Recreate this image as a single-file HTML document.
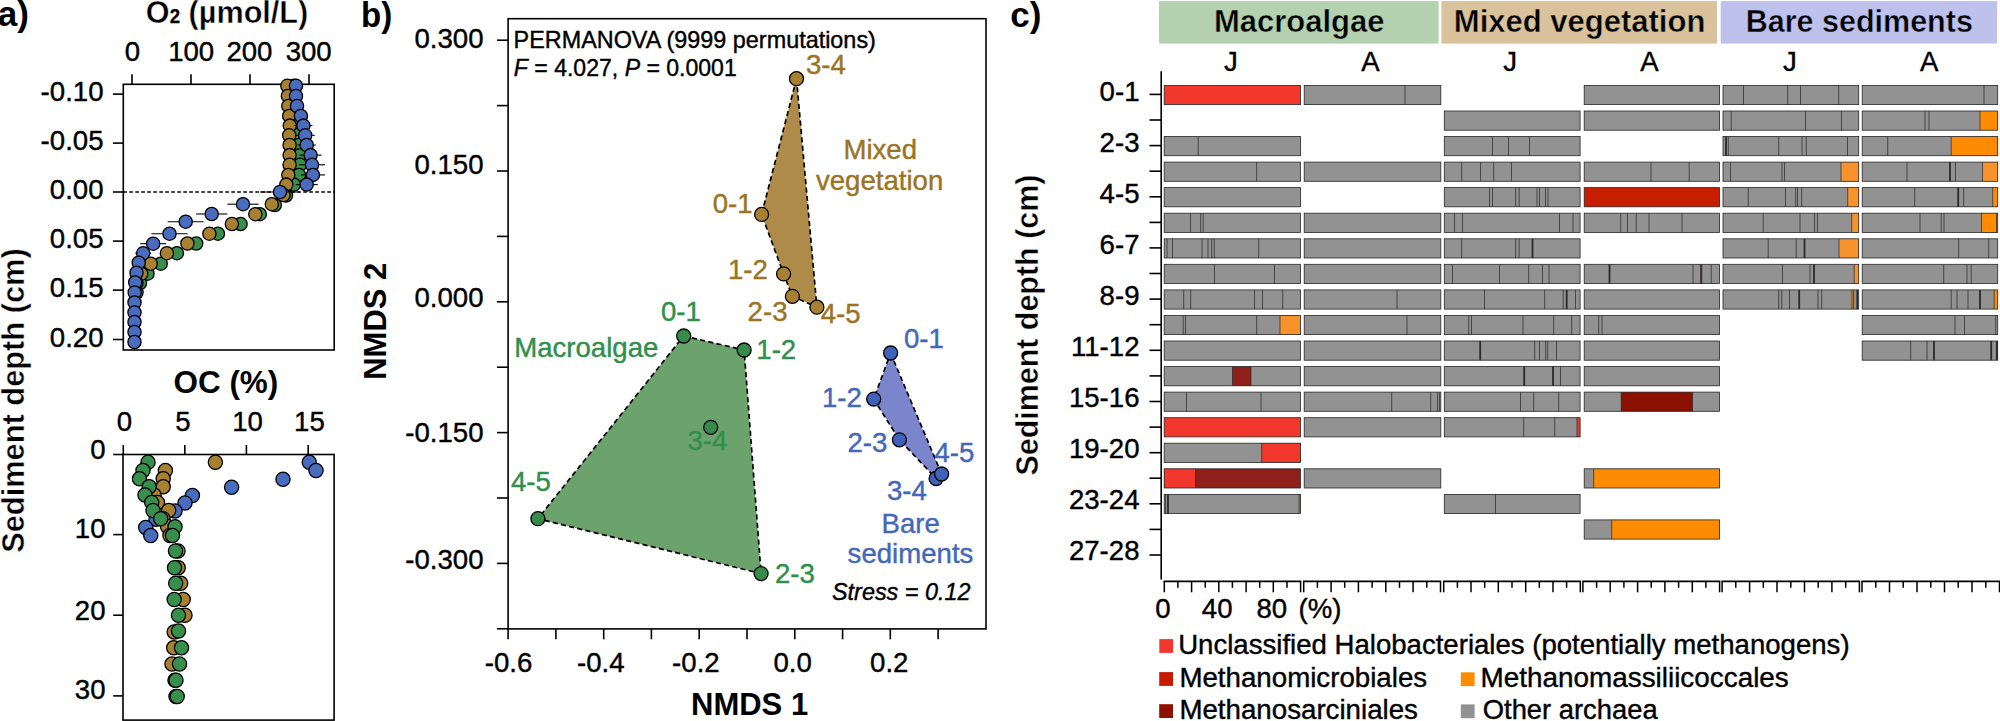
<!DOCTYPE html>
<html lang="en">
<head>
<meta charset="utf-8">
<title>Figure</title>
<style>
html,body{margin:0;padding:0;background:#fff;}
body{width:2000px;height:721px;overflow:hidden;}
svg{display:block;font-family:"Liberation Sans",sans-serif;}
</style>
</head>
<body>
<svg width="2000" height="721" viewBox="0 0 2000 721">
<rect x="0" y="0" width="2000" height="721" fill="#ffffff"/>
<g id="panelA">
<text x="-2.3" y="26.1" font-size="35" text-anchor="start" font-weight="bold" fill="#000" >a)</text>
<text x="145.8" y="23.2" font-size="32" font-weight="bold" stroke="#fff" stroke-width="0.45" stroke-linejoin="round" textLength="162.5" lengthAdjust="spacingAndGlyphs">O<tspan font-size="19.5" stroke="#000" stroke-width="0.25">2</tspan> (µmol/L)</text>
<rect x="123.3" y="84.3" width="210.9" height="265.7" fill="#fff" stroke="#000" stroke-width="1.6"/>
<line x1="132.0" y1="74.3" x2="132.0" y2="84.3" stroke="#000" stroke-width="1.6" />
<text x="132.5" y="61.0" font-size="27.6" text-anchor="middle" font-weight="normal" fill="#000"  stroke="#000" stroke-width="0.4">0</text>
<line x1="191.0" y1="74.3" x2="191.0" y2="84.3" stroke="#000" stroke-width="1.6" />
<text x="191.2" y="61.0" font-size="27.6" text-anchor="middle" font-weight="normal" fill="#000"  stroke="#000" stroke-width="0.4">100</text>
<line x1="250.0" y1="74.3" x2="250.0" y2="84.3" stroke="#000" stroke-width="1.6" />
<text x="249.4" y="61.0" font-size="27.6" text-anchor="middle" font-weight="normal" fill="#000"  stroke="#000" stroke-width="0.4">200</text>
<line x1="309.0" y1="74.3" x2="309.0" y2="84.3" stroke="#000" stroke-width="1.6" />
<text x="308.7" y="61.0" font-size="27.6" text-anchor="middle" font-weight="normal" fill="#000"  stroke="#000" stroke-width="0.4">300</text>
<line x1="112.9" y1="94.1" x2="123.3" y2="94.1" stroke="#000" stroke-width="1.6" />
<text x="103.5" y="101.1" font-size="27.6" text-anchor="end" font-weight="normal" fill="#000"  stroke="#000" stroke-width="0.4">-0.10</text>
<line x1="112.9" y1="143.1" x2="123.3" y2="143.1" stroke="#000" stroke-width="1.6" />
<text x="103.5" y="150.1" font-size="27.6" text-anchor="end" font-weight="normal" fill="#000"  stroke="#000" stroke-width="0.4">-0.05</text>
<line x1="112.9" y1="192.0" x2="123.3" y2="192.0" stroke="#000" stroke-width="1.6" />
<text x="103.5" y="199.0" font-size="27.6" text-anchor="end" font-weight="normal" fill="#000"  stroke="#000" stroke-width="0.4">0.00</text>
<line x1="112.9" y1="241.1" x2="123.3" y2="241.1" stroke="#000" stroke-width="1.6" />
<text x="103.5" y="248.1" font-size="27.6" text-anchor="end" font-weight="normal" fill="#000"  stroke="#000" stroke-width="0.4">0.05</text>
<line x1="112.9" y1="290.1" x2="123.3" y2="290.1" stroke="#000" stroke-width="1.6" />
<text x="103.5" y="297.1" font-size="27.6" text-anchor="end" font-weight="normal" fill="#000"  stroke="#000" stroke-width="0.4">0.15</text>
<line x1="112.9" y1="339.5" x2="123.3" y2="339.5" stroke="#000" stroke-width="1.6" />
<text x="103.5" y="346.5" font-size="27.6" text-anchor="end" font-weight="normal" fill="#000"  stroke="#000" stroke-width="0.4">0.20</text>
<line x1="123.3" y1="192.0" x2="334.2" y2="192.0" stroke="#000" stroke-width="1.4" stroke-dasharray="3.6 2.4"/>
<circle cx="294.0" cy="85.8" r="6.6" fill="#388E4D" stroke="#000" stroke-width="1.3"/>
<circle cx="294.0" cy="95.9" r="6.6" fill="#388E4D" stroke="#000" stroke-width="1.3"/>
<circle cx="294.5" cy="106.0" r="6.6" fill="#388E4D" stroke="#000" stroke-width="1.3"/>
<circle cx="295.0" cy="115.9" r="6.6" fill="#388E4D" stroke="#000" stroke-width="1.3"/>
<circle cx="296.0" cy="125.6" r="6.6" fill="#388E4D" stroke="#000" stroke-width="1.3"/>
<circle cx="297.0" cy="135.3" r="6.6" fill="#388E4D" stroke="#000" stroke-width="1.3"/>
<circle cx="299.0" cy="145.0" r="6.6" fill="#388E4D" stroke="#000" stroke-width="1.3"/>
<circle cx="300.0" cy="155.1" r="6.6" fill="#388E4D" stroke="#000" stroke-width="1.3"/>
<circle cx="300.0" cy="164.8" r="6.6" fill="#388E4D" stroke="#000" stroke-width="1.3"/>
<circle cx="299.0" cy="174.9" r="6.6" fill="#388E4D" stroke="#000" stroke-width="1.3"/>
<circle cx="294.0" cy="184.6" r="6.6" fill="#388E4D" stroke="#000" stroke-width="1.3"/>
<circle cx="286.0" cy="195.5" r="6.6" fill="#388E4D" stroke="#000" stroke-width="1.3"/>
<circle cx="274.8" cy="205.0" r="6.6" fill="#388E4D" stroke="#000" stroke-width="1.3"/>
<circle cx="259.8" cy="214.2" r="6.6" fill="#388E4D" stroke="#000" stroke-width="1.3"/>
<circle cx="240.6" cy="224.0" r="6.6" fill="#388E4D" stroke="#000" stroke-width="1.3"/>
<circle cx="217.9" cy="233.7" r="6.6" fill="#388E4D" stroke="#000" stroke-width="1.3"/>
<circle cx="196.2" cy="243.5" r="6.6" fill="#388E4D" stroke="#000" stroke-width="1.3"/>
<circle cx="176.9" cy="253.2" r="6.6" fill="#388E4D" stroke="#000" stroke-width="1.3"/>
<circle cx="160.7" cy="263.7" r="6.6" fill="#388E4D" stroke="#000" stroke-width="1.3"/>
<circle cx="147.5" cy="273.7" r="6.6" fill="#388E4D" stroke="#000" stroke-width="1.3"/>
<circle cx="140.0" cy="283.0" r="6.6" fill="#388E4D" stroke="#000" stroke-width="1.3"/>
<circle cx="136.5" cy="292.5" r="6.6" fill="#388E4D" stroke="#000" stroke-width="1.3"/>
<circle cx="287.3" cy="85.8" r="6.6" fill="#A88032" stroke="#000" stroke-width="1.3"/>
<circle cx="287.9" cy="95.9" r="6.6" fill="#A88032" stroke="#000" stroke-width="1.3"/>
<circle cx="288.3" cy="106.0" r="6.6" fill="#A88032" stroke="#000" stroke-width="1.3"/>
<circle cx="289.2" cy="115.9" r="6.6" fill="#A88032" stroke="#000" stroke-width="1.3"/>
<circle cx="289.8" cy="125.6" r="6.6" fill="#A88032" stroke="#000" stroke-width="1.3"/>
<circle cx="289.2" cy="135.3" r="6.6" fill="#A88032" stroke="#000" stroke-width="1.3"/>
<circle cx="289.6" cy="145.0" r="6.6" fill="#A88032" stroke="#000" stroke-width="1.3"/>
<circle cx="289.6" cy="155.1" r="6.6" fill="#A88032" stroke="#000" stroke-width="1.3"/>
<circle cx="289.6" cy="164.8" r="6.6" fill="#A88032" stroke="#000" stroke-width="1.3"/>
<circle cx="288.3" cy="174.9" r="6.6" fill="#A88032" stroke="#000" stroke-width="1.3"/>
<circle cx="286.3" cy="184.6" r="6.6" fill="#A88032" stroke="#000" stroke-width="1.3"/>
<circle cx="283.5" cy="195.0" r="6.6" fill="#A88032" stroke="#000" stroke-width="1.3"/>
<circle cx="271.8" cy="204.2" r="6.6" fill="#A88032" stroke="#000" stroke-width="1.3"/>
<circle cx="255.3" cy="214.2" r="6.6" fill="#A88032" stroke="#000" stroke-width="1.3"/>
<circle cx="231.9" cy="224.0" r="6.6" fill="#A88032" stroke="#000" stroke-width="1.3"/>
<circle cx="209.4" cy="233.7" r="6.6" fill="#A88032" stroke="#000" stroke-width="1.3"/>
<circle cx="187.4" cy="243.5" r="6.6" fill="#A88032" stroke="#000" stroke-width="1.3"/>
<circle cx="166.9" cy="253.2" r="6.6" fill="#A88032" stroke="#000" stroke-width="1.3"/>
<circle cx="150.7" cy="263.7" r="6.6" fill="#A88032" stroke="#000" stroke-width="1.3"/>
<circle cx="141.2" cy="273.7" r="6.6" fill="#A88032" stroke="#000" stroke-width="1.3"/>
<circle cx="136.5" cy="283.0" r="6.6" fill="#A88032" stroke="#000" stroke-width="1.3"/>
<line x1="294.4" y1="125.6" x2="312.4" y2="125.6" stroke="#000" stroke-width="1.1" />
<line x1="295.7" y1="135.3" x2="314.7" y2="135.3" stroke="#000" stroke-width="1.1" />
<line x1="297.7" y1="145.0" x2="315.7" y2="145.0" stroke="#000" stroke-width="1.1" />
<line x1="299.6" y1="155.1" x2="321.6" y2="155.1" stroke="#000" stroke-width="1.1" />
<line x1="299.0" y1="164.8" x2="325.0" y2="164.8" stroke="#000" stroke-width="1.1" />
<line x1="300.9" y1="174.9" x2="324.9" y2="174.9" stroke="#000" stroke-width="1.1" />
<line x1="295.7" y1="184.6" x2="317.7" y2="184.6" stroke="#000" stroke-width="1.1" />
<line x1="260.0" y1="192.0" x2="300.0" y2="192.0" stroke="#000" stroke-width="1.1" />
<line x1="227.4" y1="204.2" x2="258.6" y2="204.2" stroke="#000" stroke-width="1.1" />
<line x1="196.1" y1="214.0" x2="227.3" y2="214.0" stroke="#000" stroke-width="1.1" />
<line x1="167.7" y1="221.7" x2="203.7" y2="221.7" stroke="#000" stroke-width="1.1" />
<line x1="151.5" y1="233.7" x2="187.5" y2="233.7" stroke="#000" stroke-width="1.1" />
<line x1="140.2" y1="243.7" x2="166.2" y2="243.7" stroke="#000" stroke-width="1.1" />
<line x1="135.2" y1="253.2" x2="151.2" y2="253.2" stroke="#000" stroke-width="1.1" />
<circle cx="296.0" cy="85.8" r="6.6" fill="#4A6CBE" stroke="#000" stroke-width="1.3"/>
<circle cx="296.0" cy="95.9" r="6.6" fill="#4A6CBE" stroke="#000" stroke-width="1.3"/>
<circle cx="297.0" cy="106.0" r="6.6" fill="#4A6CBE" stroke="#000" stroke-width="1.3"/>
<circle cx="300.9" cy="115.9" r="6.6" fill="#4A6CBE" stroke="#000" stroke-width="1.3"/>
<circle cx="303.4" cy="125.6" r="6.6" fill="#4A6CBE" stroke="#000" stroke-width="1.3"/>
<circle cx="305.2" cy="135.3" r="6.6" fill="#4A6CBE" stroke="#000" stroke-width="1.3"/>
<circle cx="306.7" cy="145.0" r="6.6" fill="#4A6CBE" stroke="#000" stroke-width="1.3"/>
<circle cx="310.6" cy="155.1" r="6.6" fill="#4A6CBE" stroke="#000" stroke-width="1.3"/>
<circle cx="312.0" cy="164.8" r="6.6" fill="#4A6CBE" stroke="#000" stroke-width="1.3"/>
<circle cx="312.9" cy="174.9" r="6.6" fill="#4A6CBE" stroke="#000" stroke-width="1.3"/>
<circle cx="306.7" cy="184.6" r="6.6" fill="#4A6CBE" stroke="#000" stroke-width="1.3"/>
<circle cx="280.0" cy="192.0" r="6.6" fill="#4A6CBE" stroke="#000" stroke-width="1.3"/>
<circle cx="243.0" cy="204.2" r="6.6" fill="#4A6CBE" stroke="#000" stroke-width="1.3"/>
<circle cx="211.7" cy="214.0" r="6.6" fill="#4A6CBE" stroke="#000" stroke-width="1.3"/>
<circle cx="185.7" cy="221.7" r="6.6" fill="#4A6CBE" stroke="#000" stroke-width="1.3"/>
<circle cx="169.5" cy="233.7" r="6.6" fill="#4A6CBE" stroke="#000" stroke-width="1.3"/>
<circle cx="153.2" cy="243.7" r="6.6" fill="#4A6CBE" stroke="#000" stroke-width="1.3"/>
<circle cx="143.2" cy="253.2" r="6.6" fill="#4A6CBE" stroke="#000" stroke-width="1.3"/>
<circle cx="138.7" cy="262.7" r="6.6" fill="#4A6CBE" stroke="#000" stroke-width="1.3"/>
<circle cx="136.5" cy="272.7" r="6.6" fill="#4A6CBE" stroke="#000" stroke-width="1.3"/>
<circle cx="135.2" cy="282.5" r="6.6" fill="#4A6CBE" stroke="#000" stroke-width="1.3"/>
<circle cx="134.7" cy="292.5" r="6.6" fill="#4A6CBE" stroke="#000" stroke-width="1.3"/>
<circle cx="134.5" cy="302.5" r="6.6" fill="#4A6CBE" stroke="#000" stroke-width="1.3"/>
<circle cx="134.5" cy="312.5" r="6.6" fill="#4A6CBE" stroke="#000" stroke-width="1.3"/>
<circle cx="134.5" cy="322.0" r="6.6" fill="#4A6CBE" stroke="#000" stroke-width="1.3"/>
<circle cx="134.5" cy="332.0" r="6.6" fill="#4A6CBE" stroke="#000" stroke-width="1.3"/>
<circle cx="134.5" cy="342.0" r="6.6" fill="#4A6CBE" stroke="#000" stroke-width="1.3"/>
<text transform="translate(24.4,552.8) rotate(-90)" font-size="32" font-weight="bold" stroke="#fff" stroke-width="0.45" stroke-linejoin="round" textLength="304.5" lengthAdjust="spacingAndGlyphs">Sediment depth (cm)</text>
<text x="225.9" y="393.4" font-size="32" text-anchor="middle" font-weight="bold" fill="#000" textLength="104.8" lengthAdjust="spacingAndGlyphs">OC (%)</text>
<rect x="123.0" y="454.5" width="211.1" height="265.6" fill="#fff" stroke="#000" stroke-width="1.6"/>
<line x1="123.3" y1="445.0" x2="123.3" y2="454.5" stroke="#000" stroke-width="1.6" />
<text x="124.5" y="430.7" font-size="27.6" text-anchor="middle" font-weight="normal" fill="#000"  stroke="#000" stroke-width="0.4">0</text>
<line x1="184.8" y1="445.0" x2="184.8" y2="454.5" stroke="#000" stroke-width="1.6" />
<text x="183.0" y="430.7" font-size="27.6" text-anchor="middle" font-weight="normal" fill="#000"  stroke="#000" stroke-width="0.4">5</text>
<line x1="246.4" y1="445.0" x2="246.4" y2="454.5" stroke="#000" stroke-width="1.6" />
<text x="247.6" y="430.7" font-size="27.6" text-anchor="middle" font-weight="normal" fill="#000"  stroke="#000" stroke-width="0.4">10</text>
<line x1="308.2" y1="445.0" x2="308.2" y2="454.5" stroke="#000" stroke-width="1.6" />
<text x="309.4" y="430.7" font-size="27.6" text-anchor="middle" font-weight="normal" fill="#000"  stroke="#000" stroke-width="0.4">15</text>
<line x1="113.2" y1="454.5" x2="123.0" y2="454.5" stroke="#000" stroke-width="1.6" />
<text x="105.5" y="459.2" font-size="27.6" text-anchor="end" font-weight="normal" fill="#000"  stroke="#000" stroke-width="0.4">0</text>
<line x1="113.2" y1="534.6" x2="123.0" y2="534.6" stroke="#000" stroke-width="1.6" />
<text x="105.5" y="537.6" font-size="27.6" text-anchor="end" font-weight="normal" fill="#000"  stroke="#000" stroke-width="0.4">10</text>
<line x1="113.2" y1="615.2" x2="123.0" y2="615.2" stroke="#000" stroke-width="1.6" />
<text x="105.5" y="619.5" font-size="27.6" text-anchor="end" font-weight="normal" fill="#000"  stroke="#000" stroke-width="0.4">20</text>
<line x1="113.2" y1="695.9" x2="123.0" y2="695.9" stroke="#000" stroke-width="1.6" />
<text x="105.5" y="699.3" font-size="27.6" text-anchor="end" font-weight="normal" fill="#000"  stroke="#000" stroke-width="0.4">30</text>
<circle cx="309.3" cy="462.2" r="7.1" fill="#4A6CBE" stroke="#000" stroke-width="1.3"/>
<circle cx="316.0" cy="470.5" r="7.1" fill="#4A6CBE" stroke="#000" stroke-width="1.3"/>
<circle cx="283.0" cy="479.2" r="7.1" fill="#4A6CBE" stroke="#000" stroke-width="1.3"/>
<circle cx="231.6" cy="487.2" r="7.1" fill="#4A6CBE" stroke="#000" stroke-width="1.3"/>
<circle cx="192.4" cy="495.5" r="7.1" fill="#4A6CBE" stroke="#000" stroke-width="1.3"/>
<circle cx="185.0" cy="503.0" r="7.1" fill="#4A6CBE" stroke="#000" stroke-width="1.3"/>
<circle cx="175.0" cy="511.0" r="7.1" fill="#4A6CBE" stroke="#000" stroke-width="1.3"/>
<circle cx="156.0" cy="519.2" r="7.1" fill="#4A6CBE" stroke="#000" stroke-width="1.3"/>
<circle cx="145.7" cy="527.5" r="7.1" fill="#4A6CBE" stroke="#000" stroke-width="1.3"/>
<circle cx="150.7" cy="535.5" r="7.1" fill="#4A6CBE" stroke="#000" stroke-width="1.3"/>
<circle cx="215.4" cy="462.2" r="7.1" fill="#A88032" stroke="#000" stroke-width="1.3"/>
<circle cx="165.4" cy="470.5" r="7.1" fill="#A88032" stroke="#000" stroke-width="1.3"/>
<circle cx="163.2" cy="478.7" r="7.1" fill="#A88032" stroke="#000" stroke-width="1.3"/>
<circle cx="163.2" cy="486.7" r="7.1" fill="#A88032" stroke="#000" stroke-width="1.3"/>
<circle cx="154.0" cy="495.0" r="7.1" fill="#A88032" stroke="#000" stroke-width="1.3"/>
<circle cx="157.5" cy="502.5" r="7.1" fill="#A88032" stroke="#000" stroke-width="1.3"/>
<circle cx="168.7" cy="510.5" r="7.1" fill="#A88032" stroke="#000" stroke-width="1.3"/>
<circle cx="163.0" cy="518.7" r="7.1" fill="#A88032" stroke="#000" stroke-width="1.3"/>
<circle cx="167.5" cy="526.5" r="7.1" fill="#A88032" stroke="#000" stroke-width="1.3"/>
<circle cx="170.0" cy="535.5" r="7.1" fill="#A88032" stroke="#000" stroke-width="1.3"/>
<circle cx="178.0" cy="551.0" r="7.1" fill="#A88032" stroke="#000" stroke-width="1.3"/>
<circle cx="178.2" cy="567.7" r="7.1" fill="#A88032" stroke="#000" stroke-width="1.3"/>
<circle cx="180.7" cy="583.2" r="7.1" fill="#A88032" stroke="#000" stroke-width="1.3"/>
<circle cx="183.2" cy="599.5" r="7.1" fill="#A88032" stroke="#000" stroke-width="1.3"/>
<circle cx="185.0" cy="615.2" r="7.1" fill="#A88032" stroke="#000" stroke-width="1.3"/>
<circle cx="174.2" cy="632.0" r="7.1" fill="#A88032" stroke="#000" stroke-width="1.3"/>
<circle cx="173.7" cy="647.7" r="7.1" fill="#A88032" stroke="#000" stroke-width="1.3"/>
<circle cx="172.0" cy="664.0" r="7.1" fill="#A88032" stroke="#000" stroke-width="1.3"/>
<circle cx="175.0" cy="680.2" r="7.1" fill="#A88032" stroke="#000" stroke-width="1.3"/>
<circle cx="176.0" cy="696.5" r="7.1" fill="#A88032" stroke="#000" stroke-width="1.3"/>
<circle cx="148.0" cy="462.2" r="7.1" fill="#388E4D" stroke="#000" stroke-width="1.3"/>
<circle cx="143.0" cy="470.5" r="7.1" fill="#388E4D" stroke="#000" stroke-width="1.3"/>
<circle cx="139.5" cy="478.7" r="7.1" fill="#388E4D" stroke="#000" stroke-width="1.3"/>
<circle cx="149.2" cy="486.7" r="7.1" fill="#388E4D" stroke="#000" stroke-width="1.3"/>
<circle cx="145.0" cy="495.0" r="7.1" fill="#388E4D" stroke="#000" stroke-width="1.3"/>
<circle cx="151.7" cy="502.5" r="7.1" fill="#388E4D" stroke="#000" stroke-width="1.3"/>
<circle cx="153.0" cy="510.5" r="7.1" fill="#388E4D" stroke="#000" stroke-width="1.3"/>
<circle cx="160.7" cy="518.7" r="7.1" fill="#388E4D" stroke="#000" stroke-width="1.3"/>
<circle cx="175.0" cy="526.7" r="7.1" fill="#388E4D" stroke="#000" stroke-width="1.3"/>
<circle cx="172.5" cy="535.5" r="7.1" fill="#388E4D" stroke="#000" stroke-width="1.3"/>
<circle cx="175.5" cy="551.0" r="7.1" fill="#388E4D" stroke="#000" stroke-width="1.3"/>
<circle cx="174.5" cy="567.7" r="7.1" fill="#388E4D" stroke="#000" stroke-width="1.3"/>
<circle cx="175.7" cy="583.2" r="7.1" fill="#388E4D" stroke="#000" stroke-width="1.3"/>
<circle cx="174.2" cy="599.5" r="7.1" fill="#388E4D" stroke="#000" stroke-width="1.3"/>
<circle cx="178.5" cy="615.2" r="7.1" fill="#388E4D" stroke="#000" stroke-width="1.3"/>
<circle cx="178.5" cy="631.0" r="7.1" fill="#388E4D" stroke="#000" stroke-width="1.3"/>
<circle cx="181.5" cy="647.7" r="7.1" fill="#388E4D" stroke="#000" stroke-width="1.3"/>
<circle cx="179.5" cy="664.0" r="7.1" fill="#388E4D" stroke="#000" stroke-width="1.3"/>
<circle cx="176.0" cy="680.2" r="7.1" fill="#388E4D" stroke="#000" stroke-width="1.3"/>
<circle cx="177.2" cy="696.5" r="7.1" fill="#388E4D" stroke="#000" stroke-width="1.3"/>
</g>
<g id="panelB">
<text x="361.0" y="26.5" font-size="35" text-anchor="start" font-weight="bold" fill="#000" textLength="31.2" lengthAdjust="spacingAndGlyphs">b)</text>
<rect x="508.1" y="18.7" width="477.9" height="610.2" fill="#fff" stroke="#000" stroke-width="1.6"/>
<line x1="497.0" y1="40.2" x2="508.1" y2="40.2" stroke="#000" stroke-width="1.6" />
<line x1="497.0" y1="105.6" x2="508.1" y2="105.6" stroke="#000" stroke-width="1.6" />
<line x1="497.0" y1="171.0" x2="508.1" y2="171.0" stroke="#000" stroke-width="1.6" />
<line x1="497.0" y1="236.4" x2="508.1" y2="236.4" stroke="#000" stroke-width="1.6" />
<line x1="497.0" y1="301.8" x2="508.1" y2="301.8" stroke="#000" stroke-width="1.6" />
<line x1="497.0" y1="367.2" x2="508.1" y2="367.2" stroke="#000" stroke-width="1.6" />
<line x1="497.0" y1="432.6" x2="508.1" y2="432.6" stroke="#000" stroke-width="1.6" />
<line x1="497.0" y1="498.0" x2="508.1" y2="498.0" stroke="#000" stroke-width="1.6" />
<line x1="497.0" y1="563.4" x2="508.1" y2="563.4" stroke="#000" stroke-width="1.6" />
<line x1="497.0" y1="628.8" x2="508.1" y2="628.8" stroke="#000" stroke-width="1.6" />
<text x="483.5" y="47.9" font-size="27.6" text-anchor="end" font-weight="normal" fill="#000"  stroke="#000" stroke-width="0.4">0.300</text>
<text x="483.5" y="173.7" font-size="27.6" text-anchor="end" font-weight="normal" fill="#000"  stroke="#000" stroke-width="0.4">0.150</text>
<text x="483.5" y="306.6" font-size="27.6" text-anchor="end" font-weight="normal" fill="#000"  stroke="#000" stroke-width="0.4">0.000</text>
<text x="483.5" y="441.6" font-size="27.6" text-anchor="end" font-weight="normal" fill="#000"  stroke="#000" stroke-width="0.4">-0.150</text>
<text x="483.5" y="568.6" font-size="27.6" text-anchor="end" font-weight="normal" fill="#000"  stroke="#000" stroke-width="0.4">-0.300</text>
<line x1="508.1" y1="628.9" x2="508.1" y2="639.3" stroke="#000" stroke-width="1.6" />
<line x1="555.9" y1="628.9" x2="555.9" y2="639.3" stroke="#000" stroke-width="1.6" />
<line x1="603.7" y1="628.9" x2="603.7" y2="639.3" stroke="#000" stroke-width="1.6" />
<line x1="651.4" y1="628.9" x2="651.4" y2="639.3" stroke="#000" stroke-width="1.6" />
<line x1="699.2" y1="628.9" x2="699.2" y2="639.3" stroke="#000" stroke-width="1.6" />
<line x1="747.0" y1="628.9" x2="747.0" y2="639.3" stroke="#000" stroke-width="1.6" />
<line x1="794.8" y1="628.9" x2="794.8" y2="639.3" stroke="#000" stroke-width="1.6" />
<line x1="842.6" y1="628.9" x2="842.6" y2="639.3" stroke="#000" stroke-width="1.6" />
<line x1="890.3" y1="628.9" x2="890.3" y2="639.3" stroke="#000" stroke-width="1.6" />
<line x1="938.1" y1="628.9" x2="938.1" y2="639.3" stroke="#000" stroke-width="1.6" />
<text x="508.6" y="671.9" font-size="27.6" text-anchor="middle" font-weight="normal" fill="#000"  stroke="#000" stroke-width="0.4">-0.6</text>
<text x="600.8" y="671.9" font-size="27.6" text-anchor="middle" font-weight="normal" fill="#000"  stroke="#000" stroke-width="0.4">-0.4</text>
<text x="695.9" y="671.9" font-size="27.6" text-anchor="middle" font-weight="normal" fill="#000"  stroke="#000" stroke-width="0.4">-0.2</text>
<text x="792.6" y="671.9" font-size="27.6" text-anchor="middle" font-weight="normal" fill="#000"  stroke="#000" stroke-width="0.4">0.0</text>
<text x="889.3" y="671.9" font-size="27.6" text-anchor="middle" font-weight="normal" fill="#000"  stroke="#000" stroke-width="0.4">0.2</text>
<text x="749.6" y="714.8" font-size="31" text-anchor="middle" font-weight="bold" fill="#000" >NMDS 1</text>
<text transform="translate(386.4,379.8) rotate(-90)" font-size="31" font-weight="bold">NMDS 2</text>
<text x="513.6" y="48.2" font-size="23.4" text-anchor="start" font-weight="normal" fill="#000"  stroke="#000" stroke-width="0.4">PERMANOVA (9999 permutations)</text>
<text x="513.8" y="75.8" font-size="23.05" stroke="#000" stroke-width="0.4"><tspan font-style="italic">F</tspan> = 4.027, <tspan font-style="italic">P</tspan> = 0.0001</text>
<text x="970.5" y="600.0" font-size="23.4" text-anchor="end" font-weight="normal" fill="#000" font-style="italic"  stroke="#000" stroke-width="0.4">Stress = 0.12</text>
<polygon points="683.7,336.0 744.1,350.0 761.1,573.6 537.9,518.7" fill="#6CA36D" stroke="#000" stroke-width="1.7" stroke-dasharray="5.2 3.2"/>
<circle cx="683.7" cy="336.0" r="7.0" fill="#368B4A" stroke="#000" stroke-width="1.3"/>
<circle cx="744.1" cy="350.0" r="7.0" fill="#368B4A" stroke="#000" stroke-width="1.3"/>
<circle cx="710.7" cy="427.3" r="7.0" fill="#368B4A" stroke="#000" stroke-width="1.3"/>
<circle cx="537.9" cy="518.7" r="7.0" fill="#368B4A" stroke="#000" stroke-width="1.3"/>
<circle cx="761.1" cy="573.6" r="7.0" fill="#368B4A" stroke="#000" stroke-width="1.3"/>
<polygon points="796.5,78.7 816.9,307.2 792.4,296.3 783.6,273.9 761.6,214.4" fill="#AE8B49" stroke="#000" stroke-width="1.7" stroke-dasharray="5.2 3.2"/>
<circle cx="796.5" cy="78.7" r="7.0" fill="#A88032" stroke="#000" stroke-width="1.3"/>
<circle cx="761.6" cy="214.4" r="7.0" fill="#A88032" stroke="#000" stroke-width="1.3"/>
<circle cx="783.6" cy="273.9" r="7.0" fill="#A88032" stroke="#000" stroke-width="1.3"/>
<circle cx="792.4" cy="296.3" r="7.0" fill="#A88032" stroke="#000" stroke-width="1.3"/>
<circle cx="816.9" cy="307.2" r="7.0" fill="#A88032" stroke="#000" stroke-width="1.3"/>
<polygon points="890.6,353.0 941.6,474.0 936.1,478.5 899.4,439.8 873.7,399.1" fill="#7B85CB" stroke="#000" stroke-width="1.7" stroke-dasharray="5.2 3.2"/>
<circle cx="890.6" cy="353.0" r="7.0" fill="#3F62B8" stroke="#000" stroke-width="1.3"/>
<circle cx="873.7" cy="399.1" r="7.0" fill="#3F62B8" stroke="#000" stroke-width="1.3"/>
<circle cx="899.4" cy="439.8" r="7.0" fill="#3F62B8" stroke="#000" stroke-width="1.3"/>
<circle cx="936.1" cy="478.5" r="7.0" fill="#3F62B8" stroke="#000" stroke-width="1.3"/>
<circle cx="941.6" cy="474.0" r="7.0" fill="#3F62B8" stroke="#000" stroke-width="1.3"/>
<text x="661.0" y="321.0" font-size="27.6" text-anchor="start" font-weight="normal" fill="#2F8F4B"  stroke="#2F8F4B" stroke-width="0.4">0-1</text>
<text x="514.2" y="356.8" font-size="27.6" text-anchor="start" font-weight="normal" fill="#2F8F4B"  stroke="#2F8F4B" stroke-width="0.4">Macroalgae</text>
<text x="756.3" y="359.3" font-size="27.6" text-anchor="start" font-weight="normal" fill="#2F8F4B"  stroke="#2F8F4B" stroke-width="0.4">1-2</text>
<text x="687.5" y="449.8" font-size="27.6" text-anchor="start" font-weight="normal" fill="#2F8F4B"  stroke="#2F8F4B" stroke-width="0.4">3-4</text>
<text x="511.0" y="491.0" font-size="27.6" text-anchor="start" font-weight="normal" fill="#2F8F4B"  stroke="#2F8F4B" stroke-width="0.4">4-5</text>
<text x="775.0" y="583.0" font-size="27.6" text-anchor="start" font-weight="normal" fill="#2F8F4B"  stroke="#2F8F4B" stroke-width="0.4">2-3</text>
<text x="806.0" y="73.6" font-size="27.6" text-anchor="start" font-weight="normal" fill="#9A7424"  stroke="#9A7424" stroke-width="0.4">3-4</text>
<text x="712.7" y="212.6" font-size="27.6" text-anchor="start" font-weight="normal" fill="#9A7424"  stroke="#9A7424" stroke-width="0.4">0-1</text>
<text x="728.0" y="278.8" font-size="27.6" text-anchor="start" font-weight="normal" fill="#9A7424"  stroke="#9A7424" stroke-width="0.4">1-2</text>
<text x="747.6" y="321.4" font-size="27.6" text-anchor="start" font-weight="normal" fill="#9A7424"  stroke="#9A7424" stroke-width="0.4">2-3</text>
<text x="820.7" y="323.1" font-size="27.6" text-anchor="start" font-weight="normal" fill="#9A7424"  stroke="#9A7424" stroke-width="0.4">4-5</text>
<text x="880.2" y="158.9" font-size="27.6" text-anchor="middle" font-weight="normal" fill="#9A7424"  stroke="#9A7424" stroke-width="0.4">Mixed</text>
<text x="879.6" y="189.9" font-size="27.6" text-anchor="middle" font-weight="normal" fill="#9A7424"  stroke="#9A7424" stroke-width="0.4">vegetation</text>
<text x="904.0" y="347.5" font-size="27.6" text-anchor="start" font-weight="normal" fill="#4468B8"  stroke="#4468B8" stroke-width="0.4">0-1</text>
<text x="822.0" y="407.0" font-size="27.6" text-anchor="start" font-weight="normal" fill="#4468B8"  stroke="#4468B8" stroke-width="0.4">1-2</text>
<text x="847.5" y="452.0" font-size="27.6" text-anchor="start" font-weight="normal" fill="#4468B8"  stroke="#4468B8" stroke-width="0.4">2-3</text>
<text x="934.5" y="462.0" font-size="27.6" text-anchor="start" font-weight="normal" fill="#4468B8"  stroke="#4468B8" stroke-width="0.4">4-5</text>
<text x="887.0" y="500.0" font-size="27.6" text-anchor="start" font-weight="normal" fill="#4468B8"  stroke="#4468B8" stroke-width="0.4">3-4</text>
<text x="910.7" y="532.5" font-size="27.6" text-anchor="middle" font-weight="normal" fill="#4468B8"  stroke="#4468B8" stroke-width="0.4">Bare</text>
<text x="910.5" y="562.5" font-size="27.6" text-anchor="middle" font-weight="normal" fill="#4468B8"  stroke="#4468B8" stroke-width="0.4">sediments</text>
</g>
<g id="panelC">
<text x="1010.3" y="27.0" font-size="35" text-anchor="start" font-weight="bold" fill="#000" >c)</text>
<rect x="1159.0" y="1.1" width="279.6" height="42.5" fill="#B4D2B0"/>
<text x="1299.2" y="32.3" font-size="31" text-anchor="middle" font-weight="bold" fill="#000" stroke="#B4D2B0" stroke-width="0.45" stroke-linejoin="round">Macroalgae</text>
<rect x="1441.4" y="1.1" width="275.6" height="42.5" fill="#D9C29C"/>
<text x="1579.6" y="32.3" font-size="31" text-anchor="middle" font-weight="bold" fill="#000" stroke="#D9C29C" stroke-width="0.45" stroke-linejoin="round">Mixed vegetation</text>
<rect x="1720.7" y="1.1" width="276.4" height="42.5" fill="#BEC1EC"/>
<text x="1859.3" y="32.3" font-size="30.5" text-anchor="middle" font-weight="bold" fill="#000" stroke="#BEC1EC" stroke-width="0.45" stroke-linejoin="round">Bare sediments</text>
<text x="1231.0" y="71.2" font-size="27.6" text-anchor="middle" font-weight="normal" fill="#000"  stroke="#000" stroke-width="0.4">J</text>
<text x="1370.5" y="71.2" font-size="27.6" text-anchor="middle" font-weight="normal" fill="#000"  stroke="#000" stroke-width="0.4">A</text>
<text x="1510.2" y="71.2" font-size="27.6" text-anchor="middle" font-weight="normal" fill="#000"  stroke="#000" stroke-width="0.4">J</text>
<text x="1649.4" y="71.2" font-size="27.6" text-anchor="middle" font-weight="normal" fill="#000"  stroke="#000" stroke-width="0.4">A</text>
<text x="1790.0" y="71.2" font-size="27.6" text-anchor="middle" font-weight="normal" fill="#000"  stroke="#000" stroke-width="0.4">J</text>
<text x="1929.3" y="71.2" font-size="27.6" text-anchor="middle" font-weight="normal" fill="#000"  stroke="#000" stroke-width="0.4">A</text>
<line x1="1161.2" y1="71.2" x2="1161.2" y2="579.5" stroke="#000" stroke-width="1.6" />
<line x1="1149.5" y1="94.4" x2="1161.2" y2="94.4" stroke="#000" stroke-width="1.6" />
<line x1="1149.5" y1="120.0" x2="1161.2" y2="120.0" stroke="#000" stroke-width="1.6" />
<line x1="1149.5" y1="145.6" x2="1161.2" y2="145.6" stroke="#000" stroke-width="1.6" />
<line x1="1149.5" y1="171.2" x2="1161.2" y2="171.2" stroke="#000" stroke-width="1.6" />
<line x1="1149.5" y1="196.8" x2="1161.2" y2="196.8" stroke="#000" stroke-width="1.6" />
<line x1="1149.5" y1="222.4" x2="1161.2" y2="222.4" stroke="#000" stroke-width="1.6" />
<line x1="1149.5" y1="247.9" x2="1161.2" y2="247.9" stroke="#000" stroke-width="1.6" />
<line x1="1149.5" y1="273.5" x2="1161.2" y2="273.5" stroke="#000" stroke-width="1.6" />
<line x1="1149.5" y1="299.1" x2="1161.2" y2="299.1" stroke="#000" stroke-width="1.6" />
<line x1="1149.5" y1="324.7" x2="1161.2" y2="324.7" stroke="#000" stroke-width="1.6" />
<line x1="1149.5" y1="350.3" x2="1161.2" y2="350.3" stroke="#000" stroke-width="1.6" />
<line x1="1149.5" y1="375.9" x2="1161.2" y2="375.9" stroke="#000" stroke-width="1.6" />
<line x1="1149.5" y1="401.5" x2="1161.2" y2="401.5" stroke="#000" stroke-width="1.6" />
<line x1="1149.5" y1="427.1" x2="1161.2" y2="427.1" stroke="#000" stroke-width="1.6" />
<line x1="1149.5" y1="452.7" x2="1161.2" y2="452.7" stroke="#000" stroke-width="1.6" />
<line x1="1149.5" y1="478.2" x2="1161.2" y2="478.2" stroke="#000" stroke-width="1.6" />
<line x1="1149.5" y1="503.8" x2="1161.2" y2="503.8" stroke="#000" stroke-width="1.6" />
<line x1="1149.5" y1="529.4" x2="1161.2" y2="529.4" stroke="#000" stroke-width="1.6" />
<line x1="1149.5" y1="555.0" x2="1161.2" y2="555.0" stroke="#000" stroke-width="1.6" />
<text x="1139.5" y="101.2" font-size="27.6" text-anchor="end" font-weight="normal" fill="#000"  stroke="#000" stroke-width="0.4">0-1</text>
<text x="1139.5" y="152.2" font-size="27.6" text-anchor="end" font-weight="normal" fill="#000"  stroke="#000" stroke-width="0.4">2-3</text>
<text x="1139.5" y="203.2" font-size="27.6" text-anchor="end" font-weight="normal" fill="#000"  stroke="#000" stroke-width="0.4">4-5</text>
<text x="1139.5" y="254.1" font-size="27.6" text-anchor="end" font-weight="normal" fill="#000"  stroke="#000" stroke-width="0.4">6-7</text>
<text x="1139.5" y="305.1" font-size="27.6" text-anchor="end" font-weight="normal" fill="#000"  stroke="#000" stroke-width="0.4">8-9</text>
<text x="1139.5" y="356.1" font-size="27.6" text-anchor="end" font-weight="normal" fill="#000"  stroke="#000" stroke-width="0.4">11-12</text>
<text x="1139.5" y="407.1" font-size="27.6" text-anchor="end" font-weight="normal" fill="#000"  stroke="#000" stroke-width="0.4">15-16</text>
<text x="1139.5" y="458.1" font-size="27.6" text-anchor="end" font-weight="normal" fill="#000"  stroke="#000" stroke-width="0.4">19-20</text>
<text x="1139.5" y="509.0" font-size="27.6" text-anchor="end" font-weight="normal" fill="#000"  stroke="#000" stroke-width="0.4">23-24</text>
<text x="1139.5" y="560.0" font-size="27.6" text-anchor="end" font-weight="normal" fill="#000"  stroke="#000" stroke-width="0.4">27-28</text>
<text transform="translate(1037.5,475.6) rotate(-90)" font-size="32" font-weight="bold" stroke="#fff" stroke-width="0.45" stroke-linejoin="round" textLength="301" lengthAdjust="spacingAndGlyphs">Sediment depth (cm)</text>
<rect x="1164.2" y="85.4" width="136.3" height="19.2" fill="#F2372C"/>
<rect x="1164.2" y="85.4" width="136.3" height="19.2" fill="none" stroke="#262626" stroke-width="0.8"/>
<rect x="1164.2" y="136.5" width="136.3" height="19.2" fill="#929292"/>
<line x1="1198.2" y1="136.5" x2="1198.2" y2="155.7" stroke="#262626" stroke-width="0.7"/>
<rect x="1164.2" y="136.5" width="136.3" height="19.2" fill="none" stroke="#262626" stroke-width="0.8"/>
<rect x="1164.2" y="162.1" width="136.3" height="19.2" fill="#929292"/>
<line x1="1256.7" y1="162.1" x2="1256.7" y2="181.3" stroke="#262626" stroke-width="0.7"/>
<rect x="1164.2" y="162.1" width="136.3" height="19.2" fill="none" stroke="#262626" stroke-width="0.8"/>
<rect x="1164.2" y="187.6" width="136.3" height="19.2" fill="#929292"/>
<rect x="1164.2" y="187.6" width="136.3" height="19.2" fill="none" stroke="#262626" stroke-width="0.8"/>
<rect x="1164.2" y="213.2" width="136.3" height="19.2" fill="#929292"/>
<line x1="1190.5" y1="213.2" x2="1190.5" y2="232.4" stroke="#262626" stroke-width="0.7"/>
<line x1="1200.7" y1="213.2" x2="1200.7" y2="232.4" stroke="#262626" stroke-width="0.7"/>
<line x1="1203.2" y1="213.2" x2="1203.2" y2="232.4" stroke="#262626" stroke-width="0.7"/>
<rect x="1164.2" y="213.2" width="136.3" height="19.2" fill="none" stroke="#262626" stroke-width="0.8"/>
<rect x="1164.2" y="238.8" width="136.3" height="19.2" fill="#929292"/>
<line x1="1167.0" y1="238.8" x2="1167.0" y2="258.0" stroke="#262626" stroke-width="0.7"/>
<line x1="1172.5" y1="238.8" x2="1172.5" y2="258.0" stroke="#262626" stroke-width="0.7"/>
<line x1="1202.0" y1="238.8" x2="1202.0" y2="258.0" stroke="#262626" stroke-width="0.7"/>
<line x1="1208.0" y1="238.8" x2="1208.0" y2="258.0" stroke="#262626" stroke-width="0.7"/>
<line x1="1211.7" y1="238.8" x2="1211.7" y2="258.0" stroke="#262626" stroke-width="0.7"/>
<line x1="1214.2" y1="238.8" x2="1214.2" y2="258.0" stroke="#262626" stroke-width="0.7"/>
<line x1="1258.7" y1="238.8" x2="1258.7" y2="258.0" stroke="#262626" stroke-width="0.7"/>
<rect x="1164.2" y="238.8" width="136.3" height="19.2" fill="none" stroke="#262626" stroke-width="0.8"/>
<rect x="1164.2" y="264.3" width="136.3" height="19.2" fill="#929292"/>
<line x1="1214.5" y1="264.3" x2="1214.5" y2="283.5" stroke="#262626" stroke-width="0.7"/>
<line x1="1274.5" y1="264.3" x2="1274.5" y2="283.5" stroke="#262626" stroke-width="0.7"/>
<rect x="1164.2" y="264.3" width="136.3" height="19.2" fill="none" stroke="#262626" stroke-width="0.8"/>
<rect x="1164.2" y="289.9" width="136.3" height="19.2" fill="#929292"/>
<line x1="1183.7" y1="289.9" x2="1183.7" y2="309.1" stroke="#262626" stroke-width="0.7"/>
<line x1="1190.7" y1="289.9" x2="1190.7" y2="309.1" stroke="#262626" stroke-width="0.7"/>
<line x1="1254.5" y1="289.9" x2="1254.5" y2="309.1" stroke="#262626" stroke-width="0.7"/>
<line x1="1262.5" y1="289.9" x2="1262.5" y2="309.1" stroke="#262626" stroke-width="0.7"/>
<line x1="1282.7" y1="289.9" x2="1282.7" y2="309.1" stroke="#262626" stroke-width="0.7"/>
<rect x="1164.2" y="289.9" width="136.3" height="19.2" fill="none" stroke="#262626" stroke-width="0.8"/>
<rect x="1164.2" y="315.4" width="136.3" height="19.2" fill="#929292"/>
<rect x="1280.0" y="315.4" width="20.5" height="19.2" fill="#F7922D"/>
<line x1="1280.0" y1="315.4" x2="1280.0" y2="334.6" stroke="#262626" stroke-width="0.7"/>
<line x1="1183.2" y1="315.4" x2="1183.2" y2="334.6" stroke="#262626" stroke-width="0.7"/>
<line x1="1185.5" y1="315.4" x2="1185.5" y2="334.6" stroke="#262626" stroke-width="0.7"/>
<line x1="1256.7" y1="315.4" x2="1256.7" y2="334.6" stroke="#262626" stroke-width="0.7"/>
<rect x="1164.2" y="315.4" width="136.3" height="19.2" fill="none" stroke="#262626" stroke-width="0.8"/>
<rect x="1164.2" y="341.0" width="136.3" height="19.2" fill="#929292"/>
<rect x="1164.2" y="341.0" width="136.3" height="19.2" fill="none" stroke="#262626" stroke-width="0.8"/>
<rect x="1164.2" y="366.6" width="136.3" height="19.2" fill="#929292"/>
<rect x="1232.5" y="366.6" width="18.5" height="19.2" fill="#8E1F1B"/>
<line x1="1232.5" y1="366.6" x2="1232.5" y2="385.8" stroke="#262626" stroke-width="0.7"/>
<line x1="1251.0" y1="366.6" x2="1251.0" y2="385.8" stroke="#262626" stroke-width="0.7"/>
<rect x="1164.2" y="366.6" width="136.3" height="19.2" fill="none" stroke="#262626" stroke-width="0.8"/>
<rect x="1164.2" y="392.1" width="136.3" height="19.2" fill="#929292"/>
<line x1="1186.5" y1="392.1" x2="1186.5" y2="411.3" stroke="#262626" stroke-width="0.7"/>
<line x1="1261.0" y1="392.1" x2="1261.0" y2="411.3" stroke="#262626" stroke-width="0.7"/>
<rect x="1164.2" y="392.1" width="136.3" height="19.2" fill="none" stroke="#262626" stroke-width="0.8"/>
<rect x="1164.2" y="417.7" width="136.3" height="19.2" fill="#F2372C"/>
<rect x="1164.2" y="417.7" width="136.3" height="19.2" fill="none" stroke="#262626" stroke-width="0.8"/>
<rect x="1164.2" y="443.2" width="136.3" height="19.2" fill="#929292"/>
<rect x="1261.7" y="443.2" width="38.8" height="19.2" fill="#F2372C"/>
<line x1="1261.7" y1="443.2" x2="1261.7" y2="462.4" stroke="#262626" stroke-width="0.7"/>
<rect x="1164.2" y="443.2" width="136.3" height="19.2" fill="none" stroke="#262626" stroke-width="0.8"/>
<rect x="1164.2" y="468.8" width="136.3" height="19.2" fill="#8E1F1B"/>
<rect x="1164.2" y="468.8" width="31.3" height="19.2" fill="#F2372C"/>
<line x1="1195.5" y1="468.8" x2="1195.5" y2="488.0" stroke="#262626" stroke-width="0.7"/>
<rect x="1164.2" y="468.8" width="136.3" height="19.2" fill="none" stroke="#262626" stroke-width="0.8"/>
<rect x="1164.2" y="494.4" width="136.3" height="19.2" fill="#929292"/>
<rect x="1299.0" y="494.4" width="1.5" height="19.2" fill="#D97A10"/>
<line x1="1299.0" y1="494.4" x2="1299.0" y2="513.6" stroke="#262626" stroke-width="0.7"/>
<line x1="1165.5" y1="494.4" x2="1165.5" y2="513.6" stroke="#262626" stroke-width="0.7"/>
<line x1="1168.0" y1="494.4" x2="1168.0" y2="513.6" stroke="#2a2a2a" stroke-width="1.8"/>
<rect x="1164.2" y="494.4" width="136.3" height="19.2" fill="none" stroke="#262626" stroke-width="0.8"/>
<rect x="1304.2" y="85.4" width="136.6" height="19.2" fill="#929292"/>
<line x1="1405.0" y1="85.4" x2="1405.0" y2="104.6" stroke="#262626" stroke-width="0.7"/>
<rect x="1304.2" y="85.4" width="136.6" height="19.2" fill="none" stroke="#262626" stroke-width="0.8"/>
<rect x="1304.2" y="162.1" width="136.6" height="19.2" fill="#929292"/>
<rect x="1304.2" y="162.1" width="136.6" height="19.2" fill="none" stroke="#262626" stroke-width="0.8"/>
<rect x="1304.2" y="213.2" width="136.6" height="19.2" fill="#929292"/>
<rect x="1304.2" y="213.2" width="136.6" height="19.2" fill="none" stroke="#262626" stroke-width="0.8"/>
<rect x="1304.2" y="238.8" width="136.6" height="19.2" fill="#929292"/>
<rect x="1304.2" y="238.8" width="136.6" height="19.2" fill="none" stroke="#262626" stroke-width="0.8"/>
<rect x="1304.2" y="264.3" width="136.6" height="19.2" fill="#929292"/>
<rect x="1304.2" y="264.3" width="136.6" height="19.2" fill="none" stroke="#262626" stroke-width="0.8"/>
<rect x="1304.2" y="289.9" width="136.6" height="19.2" fill="#929292"/>
<line x1="1397.0" y1="289.9" x2="1397.0" y2="309.1" stroke="#262626" stroke-width="0.7"/>
<rect x="1304.2" y="289.9" width="136.6" height="19.2" fill="none" stroke="#262626" stroke-width="0.8"/>
<rect x="1304.2" y="315.4" width="136.6" height="19.2" fill="#929292"/>
<line x1="1407.0" y1="315.4" x2="1407.0" y2="334.6" stroke="#262626" stroke-width="0.7"/>
<rect x="1304.2" y="315.4" width="136.6" height="19.2" fill="none" stroke="#262626" stroke-width="0.8"/>
<rect x="1304.2" y="341.0" width="136.6" height="19.2" fill="#929292"/>
<rect x="1304.2" y="341.0" width="136.6" height="19.2" fill="none" stroke="#262626" stroke-width="0.8"/>
<rect x="1304.2" y="366.6" width="136.6" height="19.2" fill="#929292"/>
<rect x="1304.2" y="366.6" width="136.6" height="19.2" fill="none" stroke="#262626" stroke-width="0.8"/>
<rect x="1304.2" y="392.1" width="136.6" height="19.2" fill="#929292"/>
<line x1="1391.7" y1="392.1" x2="1391.7" y2="411.3" stroke="#262626" stroke-width="0.7"/>
<line x1="1430.7" y1="392.1" x2="1430.7" y2="411.3" stroke="#262626" stroke-width="0.7"/>
<line x1="1437.5" y1="392.1" x2="1437.5" y2="411.3" stroke="#262626" stroke-width="0.7"/>
<line x1="1439.5" y1="392.1" x2="1439.5" y2="411.3" stroke="#262626" stroke-width="0.7"/>
<rect x="1304.2" y="392.1" width="136.6" height="19.2" fill="none" stroke="#262626" stroke-width="0.8"/>
<rect x="1304.2" y="417.7" width="136.6" height="19.2" fill="#929292"/>
<rect x="1304.2" y="417.7" width="136.6" height="19.2" fill="none" stroke="#262626" stroke-width="0.8"/>
<rect x="1304.2" y="468.8" width="136.6" height="19.2" fill="#929292"/>
<rect x="1304.2" y="468.8" width="136.6" height="19.2" fill="none" stroke="#262626" stroke-width="0.8"/>
<rect x="1444.3" y="111.0" width="135.8" height="19.2" fill="#929292"/>
<rect x="1444.3" y="111.0" width="135.8" height="19.2" fill="none" stroke="#262626" stroke-width="0.8"/>
<rect x="1444.3" y="136.5" width="135.8" height="19.2" fill="#929292"/>
<line x1="1492.5" y1="136.5" x2="1492.5" y2="155.7" stroke="#262626" stroke-width="0.7"/>
<line x1="1508.5" y1="136.5" x2="1508.5" y2="155.7" stroke="#262626" stroke-width="0.7"/>
<line x1="1529.5" y1="136.5" x2="1529.5" y2="155.7" stroke="#262626" stroke-width="0.7"/>
<rect x="1444.3" y="136.5" width="135.8" height="19.2" fill="none" stroke="#262626" stroke-width="0.8"/>
<rect x="1444.3" y="162.1" width="135.8" height="19.2" fill="#929292"/>
<line x1="1461.7" y1="162.1" x2="1461.7" y2="181.3" stroke="#262626" stroke-width="0.7"/>
<line x1="1480.5" y1="162.1" x2="1480.5" y2="181.3" stroke="#262626" stroke-width="0.7"/>
<line x1="1493.7" y1="162.1" x2="1493.7" y2="181.3" stroke="#262626" stroke-width="0.7"/>
<line x1="1511.5" y1="162.1" x2="1511.5" y2="181.3" stroke="#262626" stroke-width="0.7"/>
<rect x="1444.3" y="162.1" width="135.8" height="19.2" fill="none" stroke="#262626" stroke-width="0.8"/>
<rect x="1444.3" y="187.6" width="135.8" height="19.2" fill="#929292"/>
<line x1="1489.5" y1="187.6" x2="1489.5" y2="206.8" stroke="#262626" stroke-width="0.7"/>
<line x1="1492.5" y1="187.6" x2="1492.5" y2="206.8" stroke="#262626" stroke-width="0.7"/>
<line x1="1515.7" y1="187.6" x2="1515.7" y2="206.8" stroke="#262626" stroke-width="0.7"/>
<line x1="1519.2" y1="187.6" x2="1519.2" y2="206.8" stroke="#262626" stroke-width="0.7"/>
<line x1="1537.0" y1="187.6" x2="1537.0" y2="206.8" stroke="#262626" stroke-width="0.7"/>
<line x1="1539.5" y1="187.6" x2="1539.5" y2="206.8" stroke="#262626" stroke-width="0.7"/>
<line x1="1545.5" y1="187.6" x2="1545.5" y2="206.8" stroke="#262626" stroke-width="0.7"/>
<line x1="1548.0" y1="187.6" x2="1548.0" y2="206.8" stroke="#262626" stroke-width="0.7"/>
<rect x="1444.3" y="187.6" width="135.8" height="19.2" fill="none" stroke="#262626" stroke-width="0.8"/>
<rect x="1444.3" y="213.2" width="135.8" height="19.2" fill="#929292"/>
<line x1="1454.5" y1="213.2" x2="1454.5" y2="232.4" stroke="#262626" stroke-width="0.7"/>
<line x1="1462.5" y1="213.2" x2="1462.5" y2="232.4" stroke="#262626" stroke-width="0.7"/>
<line x1="1559.5" y1="213.2" x2="1559.5" y2="232.4" stroke="#262626" stroke-width="0.7"/>
<line x1="1573.0" y1="213.2" x2="1573.0" y2="232.4" stroke="#262626" stroke-width="0.7"/>
<rect x="1444.3" y="213.2" width="135.8" height="19.2" fill="none" stroke="#262626" stroke-width="0.8"/>
<rect x="1444.3" y="238.8" width="135.8" height="19.2" fill="#929292"/>
<line x1="1461.7" y1="238.8" x2="1461.7" y2="258.0" stroke="#262626" stroke-width="0.7"/>
<line x1="1515.7" y1="238.8" x2="1515.7" y2="258.0" stroke="#262626" stroke-width="0.7"/>
<line x1="1519.2" y1="238.8" x2="1519.2" y2="258.0" stroke="#262626" stroke-width="0.7"/>
<line x1="1532.5" y1="238.8" x2="1532.5" y2="258.0" stroke="#2a2a2a" stroke-width="1.8"/>
<rect x="1444.3" y="238.8" width="135.8" height="19.2" fill="none" stroke="#262626" stroke-width="0.8"/>
<rect x="1444.3" y="264.3" width="135.8" height="19.2" fill="#929292"/>
<line x1="1452.5" y1="264.3" x2="1452.5" y2="283.5" stroke="#262626" stroke-width="0.7"/>
<line x1="1499.5" y1="264.3" x2="1499.5" y2="283.5" stroke="#262626" stroke-width="0.7"/>
<line x1="1528.7" y1="264.3" x2="1528.7" y2="283.5" stroke="#262626" stroke-width="0.7"/>
<line x1="1542.5" y1="264.3" x2="1542.5" y2="283.5" stroke="#262626" stroke-width="0.7"/>
<line x1="1549.0" y1="264.3" x2="1549.0" y2="283.5" stroke="#262626" stroke-width="0.7"/>
<rect x="1444.3" y="264.3" width="135.8" height="19.2" fill="none" stroke="#262626" stroke-width="0.8"/>
<rect x="1444.3" y="289.9" width="135.8" height="19.2" fill="#929292"/>
<line x1="1484.5" y1="289.9" x2="1484.5" y2="309.1" stroke="#262626" stroke-width="0.7"/>
<line x1="1544.7" y1="289.9" x2="1544.7" y2="309.1" stroke="#262626" stroke-width="0.7"/>
<line x1="1563.2" y1="289.9" x2="1563.2" y2="309.1" stroke="#262626" stroke-width="0.7"/>
<line x1="1566.7" y1="289.9" x2="1566.7" y2="309.1" stroke="#2a2a2a" stroke-width="1.8"/>
<line x1="1575.5" y1="289.9" x2="1575.5" y2="309.1" stroke="#262626" stroke-width="0.7"/>
<rect x="1444.3" y="289.9" width="135.8" height="19.2" fill="none" stroke="#262626" stroke-width="0.8"/>
<rect x="1444.3" y="315.4" width="135.8" height="19.2" fill="#929292"/>
<line x1="1468.7" y1="315.4" x2="1468.7" y2="334.6" stroke="#262626" stroke-width="0.7"/>
<line x1="1471.5" y1="315.4" x2="1471.5" y2="334.6" stroke="#262626" stroke-width="0.7"/>
<line x1="1523.0" y1="315.4" x2="1523.0" y2="334.6" stroke="#262626" stroke-width="0.7"/>
<line x1="1553.7" y1="315.4" x2="1553.7" y2="334.6" stroke="#262626" stroke-width="0.7"/>
<line x1="1571.7" y1="315.4" x2="1571.7" y2="334.6" stroke="#262626" stroke-width="0.7"/>
<rect x="1444.3" y="315.4" width="135.8" height="19.2" fill="none" stroke="#262626" stroke-width="0.8"/>
<rect x="1444.3" y="341.0" width="135.8" height="19.2" fill="#929292"/>
<line x1="1480.2" y1="341.0" x2="1480.2" y2="360.2" stroke="#2a2a2a" stroke-width="1.8"/>
<line x1="1534.7" y1="341.0" x2="1534.7" y2="360.2" stroke="#262626" stroke-width="0.7"/>
<line x1="1539.5" y1="341.0" x2="1539.5" y2="360.2" stroke="#262626" stroke-width="0.7"/>
<line x1="1545.7" y1="341.0" x2="1545.7" y2="360.2" stroke="#262626" stroke-width="0.7"/>
<line x1="1547.7" y1="341.0" x2="1547.7" y2="360.2" stroke="#262626" stroke-width="0.7"/>
<line x1="1556.5" y1="341.0" x2="1556.5" y2="360.2" stroke="#262626" stroke-width="0.7"/>
<rect x="1444.3" y="341.0" width="135.8" height="19.2" fill="none" stroke="#262626" stroke-width="0.8"/>
<rect x="1444.3" y="366.6" width="135.8" height="19.2" fill="#929292"/>
<line x1="1524.2" y1="366.6" x2="1524.2" y2="385.8" stroke="#2a2a2a" stroke-width="1.8"/>
<line x1="1553.0" y1="366.6" x2="1553.0" y2="385.8" stroke="#2a2a2a" stroke-width="1.8"/>
<line x1="1560.5" y1="366.6" x2="1560.5" y2="385.8" stroke="#262626" stroke-width="0.7"/>
<rect x="1444.3" y="366.6" width="135.8" height="19.2" fill="none" stroke="#262626" stroke-width="0.8"/>
<rect x="1444.3" y="392.1" width="135.8" height="19.2" fill="#929292"/>
<line x1="1520.5" y1="392.1" x2="1520.5" y2="411.3" stroke="#262626" stroke-width="0.7"/>
<line x1="1533.7" y1="392.1" x2="1533.7" y2="411.3" stroke="#262626" stroke-width="0.7"/>
<line x1="1558.7" y1="392.1" x2="1558.7" y2="411.3" stroke="#262626" stroke-width="0.7"/>
<rect x="1444.3" y="392.1" width="135.8" height="19.2" fill="none" stroke="#262626" stroke-width="0.8"/>
<rect x="1444.3" y="417.7" width="135.8" height="19.2" fill="#929292"/>
<rect x="1577.0" y="417.7" width="3.1" height="19.2" fill="#F2372C"/>
<line x1="1577.0" y1="417.7" x2="1577.0" y2="436.9" stroke="#262626" stroke-width="0.7"/>
<line x1="1523.7" y1="417.7" x2="1523.7" y2="436.9" stroke="#262626" stroke-width="0.7"/>
<line x1="1554.7" y1="417.7" x2="1554.7" y2="436.9" stroke="#262626" stroke-width="0.7"/>
<rect x="1444.3" y="417.7" width="135.8" height="19.2" fill="none" stroke="#262626" stroke-width="0.8"/>
<rect x="1444.3" y="494.4" width="135.8" height="19.2" fill="#929292"/>
<line x1="1495.5" y1="494.4" x2="1495.5" y2="513.6" stroke="#262626" stroke-width="0.7"/>
<rect x="1444.3" y="494.4" width="135.8" height="19.2" fill="none" stroke="#262626" stroke-width="0.8"/>
<rect x="1584.2" y="85.4" width="135.3" height="19.2" fill="#929292"/>
<rect x="1584.2" y="85.4" width="135.3" height="19.2" fill="none" stroke="#262626" stroke-width="0.8"/>
<rect x="1584.2" y="111.0" width="135.3" height="19.2" fill="#929292"/>
<rect x="1584.2" y="111.0" width="135.3" height="19.2" fill="none" stroke="#262626" stroke-width="0.8"/>
<rect x="1584.2" y="162.1" width="135.3" height="19.2" fill="#929292"/>
<line x1="1651.0" y1="162.1" x2="1651.0" y2="181.3" stroke="#262626" stroke-width="0.7"/>
<line x1="1689.2" y1="162.1" x2="1689.2" y2="181.3" stroke="#262626" stroke-width="0.7"/>
<rect x="1584.2" y="162.1" width="135.3" height="19.2" fill="none" stroke="#262626" stroke-width="0.8"/>
<rect x="1584.2" y="187.6" width="135.3" height="19.2" fill="#C81E00"/>
<rect x="1584.2" y="187.6" width="135.3" height="19.2" fill="none" stroke="#262626" stroke-width="0.8"/>
<rect x="1584.2" y="213.2" width="135.3" height="19.2" fill="#929292"/>
<line x1="1620.7" y1="213.2" x2="1620.7" y2="232.4" stroke="#262626" stroke-width="0.7"/>
<line x1="1627.5" y1="213.2" x2="1627.5" y2="232.4" stroke="#262626" stroke-width="0.7"/>
<line x1="1636.2" y1="213.2" x2="1636.2" y2="232.4" stroke="#262626" stroke-width="0.7"/>
<line x1="1649.0" y1="213.2" x2="1649.0" y2="232.4" stroke="#262626" stroke-width="0.7"/>
<line x1="1682.0" y1="213.2" x2="1682.0" y2="232.4" stroke="#262626" stroke-width="0.7"/>
<rect x="1584.2" y="213.2" width="135.3" height="19.2" fill="none" stroke="#262626" stroke-width="0.8"/>
<rect x="1584.2" y="264.3" width="135.3" height="19.2" fill="#929292"/>
<rect x="1700.6" y="264.3" width="1.2" height="19.2" fill="#7A1510"/>
<line x1="1700.6" y1="264.3" x2="1700.6" y2="283.5" stroke="#262626" stroke-width="0.7"/>
<line x1="1701.8" y1="264.3" x2="1701.8" y2="283.5" stroke="#262626" stroke-width="0.7"/>
<line x1="1609.5" y1="264.3" x2="1609.5" y2="283.5" stroke="#2a2a2a" stroke-width="1.8"/>
<line x1="1693.0" y1="264.3" x2="1693.0" y2="283.5" stroke="#262626" stroke-width="0.7"/>
<line x1="1711.2" y1="264.3" x2="1711.2" y2="283.5" stroke="#262626" stroke-width="0.7"/>
<rect x="1584.2" y="264.3" width="135.3" height="19.2" fill="none" stroke="#262626" stroke-width="0.8"/>
<rect x="1584.2" y="289.9" width="135.3" height="19.2" fill="#929292"/>
<rect x="1584.2" y="289.9" width="135.3" height="19.2" fill="none" stroke="#262626" stroke-width="0.8"/>
<rect x="1584.2" y="315.4" width="135.3" height="19.2" fill="#929292"/>
<line x1="1598.7" y1="315.4" x2="1598.7" y2="334.6" stroke="#262626" stroke-width="0.7"/>
<line x1="1602.0" y1="315.4" x2="1602.0" y2="334.6" stroke="#262626" stroke-width="0.7"/>
<rect x="1584.2" y="315.4" width="135.3" height="19.2" fill="none" stroke="#262626" stroke-width="0.8"/>
<rect x="1584.2" y="341.0" width="135.3" height="19.2" fill="#929292"/>
<rect x="1584.2" y="341.0" width="135.3" height="19.2" fill="none" stroke="#262626" stroke-width="0.8"/>
<rect x="1584.2" y="366.6" width="135.3" height="19.2" fill="#929292"/>
<rect x="1584.2" y="366.6" width="135.3" height="19.2" fill="none" stroke="#262626" stroke-width="0.8"/>
<rect x="1584.2" y="392.1" width="135.3" height="19.2" fill="#929292"/>
<rect x="1621.2" y="392.1" width="71.3" height="19.2" fill="#8B1000"/>
<line x1="1621.2" y1="392.1" x2="1621.2" y2="411.3" stroke="#262626" stroke-width="0.7"/>
<line x1="1692.5" y1="392.1" x2="1692.5" y2="411.3" stroke="#262626" stroke-width="0.7"/>
<rect x="1584.2" y="392.1" width="135.3" height="19.2" fill="none" stroke="#262626" stroke-width="0.8"/>
<rect x="1584.2" y="468.8" width="135.3" height="19.2" fill="#929292"/>
<rect x="1593.7" y="468.8" width="125.8" height="19.2" fill="#FF8C00"/>
<line x1="1593.7" y1="468.8" x2="1593.7" y2="488.0" stroke="#262626" stroke-width="0.7"/>
<rect x="1584.2" y="468.8" width="135.3" height="19.2" fill="none" stroke="#262626" stroke-width="0.8"/>
<rect x="1584.2" y="519.9" width="135.3" height="19.2" fill="#929292"/>
<rect x="1611.7" y="519.9" width="107.8" height="19.2" fill="#FF8C00"/>
<line x1="1611.7" y1="519.9" x2="1611.7" y2="539.1" stroke="#262626" stroke-width="0.7"/>
<rect x="1584.2" y="519.9" width="135.3" height="19.2" fill="none" stroke="#262626" stroke-width="0.8"/>
<rect x="1723.0" y="85.4" width="135.7" height="19.2" fill="#929292"/>
<line x1="1743.5" y1="85.4" x2="1743.5" y2="104.6" stroke="#262626" stroke-width="0.7"/>
<line x1="1787.7" y1="85.4" x2="1787.7" y2="104.6" stroke="#262626" stroke-width="0.7"/>
<line x1="1800.5" y1="85.4" x2="1800.5" y2="104.6" stroke="#262626" stroke-width="0.7"/>
<line x1="1838.7" y1="85.4" x2="1838.7" y2="104.6" stroke="#262626" stroke-width="0.7"/>
<rect x="1723.0" y="85.4" width="135.7" height="19.2" fill="none" stroke="#262626" stroke-width="0.8"/>
<rect x="1723.0" y="111.0" width="135.7" height="19.2" fill="#929292"/>
<line x1="1731.2" y1="111.0" x2="1731.2" y2="130.2" stroke="#262626" stroke-width="0.7"/>
<line x1="1805.5" y1="111.0" x2="1805.5" y2="130.2" stroke="#262626" stroke-width="0.7"/>
<line x1="1841.5" y1="111.0" x2="1841.5" y2="130.2" stroke="#262626" stroke-width="0.7"/>
<rect x="1723.0" y="111.0" width="135.7" height="19.2" fill="none" stroke="#262626" stroke-width="0.8"/>
<rect x="1723.0" y="136.5" width="135.7" height="19.2" fill="#929292"/>
<line x1="1726.0" y1="136.5" x2="1726.0" y2="155.7" stroke="#2a2a2a" stroke-width="1.8"/>
<line x1="1728.3" y1="136.5" x2="1728.3" y2="155.7" stroke="#262626" stroke-width="0.7"/>
<line x1="1778.7" y1="136.5" x2="1778.7" y2="155.7" stroke="#262626" stroke-width="0.7"/>
<line x1="1802.0" y1="136.5" x2="1802.0" y2="155.7" stroke="#262626" stroke-width="0.7"/>
<line x1="1806.2" y1="136.5" x2="1806.2" y2="155.7" stroke="#262626" stroke-width="0.7"/>
<line x1="1847.5" y1="136.5" x2="1847.5" y2="155.7" stroke="#262626" stroke-width="0.7"/>
<rect x="1723.0" y="136.5" width="135.7" height="19.2" fill="none" stroke="#262626" stroke-width="0.8"/>
<rect x="1723.0" y="162.1" width="135.7" height="19.2" fill="#929292"/>
<rect x="1841.0" y="162.1" width="17.7" height="19.2" fill="#F7922D"/>
<line x1="1841.0" y1="162.1" x2="1841.0" y2="181.3" stroke="#262626" stroke-width="0.7"/>
<line x1="1730.5" y1="162.1" x2="1730.5" y2="181.3" stroke="#262626" stroke-width="0.7"/>
<line x1="1782.0" y1="162.1" x2="1782.0" y2="181.3" stroke="#262626" stroke-width="0.7"/>
<line x1="1784.5" y1="162.1" x2="1784.5" y2="181.3" stroke="#262626" stroke-width="0.7"/>
<rect x="1723.0" y="162.1" width="135.7" height="19.2" fill="none" stroke="#262626" stroke-width="0.8"/>
<rect x="1723.0" y="187.6" width="135.7" height="19.2" fill="#929292"/>
<rect x="1847.7" y="187.6" width="11.0" height="19.2" fill="#F7922D"/>
<line x1="1847.7" y1="187.6" x2="1847.7" y2="206.8" stroke="#262626" stroke-width="0.7"/>
<line x1="1748.2" y1="187.6" x2="1748.2" y2="206.8" stroke="#262626" stroke-width="0.7"/>
<line x1="1785.5" y1="187.6" x2="1785.5" y2="206.8" stroke="#262626" stroke-width="0.7"/>
<line x1="1795.7" y1="187.6" x2="1795.7" y2="206.8" stroke="#262626" stroke-width="0.7"/>
<line x1="1797.5" y1="187.6" x2="1797.5" y2="206.8" stroke="#262626" stroke-width="0.7"/>
<line x1="1801.7" y1="187.6" x2="1801.7" y2="206.8" stroke="#262626" stroke-width="0.7"/>
<rect x="1723.0" y="187.6" width="135.7" height="19.2" fill="none" stroke="#262626" stroke-width="0.8"/>
<rect x="1723.0" y="213.2" width="135.7" height="19.2" fill="#929292"/>
<rect x="1851.7" y="213.2" width="7.0" height="19.2" fill="#F7922D"/>
<line x1="1851.7" y1="213.2" x2="1851.7" y2="232.4" stroke="#262626" stroke-width="0.7"/>
<line x1="1763.2" y1="213.2" x2="1763.2" y2="232.4" stroke="#262626" stroke-width="0.7"/>
<line x1="1800.0" y1="213.2" x2="1800.0" y2="232.4" stroke="#262626" stroke-width="0.7"/>
<line x1="1814.5" y1="213.2" x2="1814.5" y2="232.4" stroke="#262626" stroke-width="0.7"/>
<line x1="1817.5" y1="213.2" x2="1817.5" y2="232.4" stroke="#262626" stroke-width="0.7"/>
<rect x="1723.0" y="213.2" width="135.7" height="19.2" fill="none" stroke="#262626" stroke-width="0.8"/>
<rect x="1723.0" y="238.8" width="135.7" height="19.2" fill="#929292"/>
<rect x="1839.0" y="238.8" width="19.7" height="19.2" fill="#F7922D"/>
<line x1="1839.0" y1="238.8" x2="1839.0" y2="258.0" stroke="#262626" stroke-width="0.7"/>
<line x1="1768.2" y1="238.8" x2="1768.2" y2="258.0" stroke="#262626" stroke-width="0.7"/>
<line x1="1796.2" y1="238.8" x2="1796.2" y2="258.0" stroke="#262626" stroke-width="0.7"/>
<line x1="1804.5" y1="238.8" x2="1804.5" y2="258.0" stroke="#2a2a2a" stroke-width="1.8"/>
<rect x="1723.0" y="238.8" width="135.7" height="19.2" fill="none" stroke="#262626" stroke-width="0.8"/>
<rect x="1723.0" y="264.3" width="135.7" height="19.2" fill="#929292"/>
<rect x="1854.2" y="264.3" width="4.5" height="19.2" fill="#F7922D"/>
<line x1="1854.2" y1="264.3" x2="1854.2" y2="283.5" stroke="#262626" stroke-width="0.7"/>
<line x1="1782.5" y1="264.3" x2="1782.5" y2="283.5" stroke="#262626" stroke-width="0.7"/>
<line x1="1810.0" y1="264.3" x2="1810.0" y2="283.5" stroke="#262626" stroke-width="0.7"/>
<line x1="1814.0" y1="264.3" x2="1814.0" y2="283.5" stroke="#2a2a2a" stroke-width="1.8"/>
<rect x="1723.0" y="264.3" width="135.7" height="19.2" fill="none" stroke="#262626" stroke-width="0.8"/>
<rect x="1723.0" y="289.9" width="135.7" height="19.2" fill="#929292"/>
<rect x="1852.0" y="289.9" width="1.6" height="19.2" fill="#FF8C00"/>
<line x1="1852.0" y1="289.9" x2="1852.0" y2="309.1" stroke="#262626" stroke-width="0.7"/>
<line x1="1853.6" y1="289.9" x2="1853.6" y2="309.1" stroke="#262626" stroke-width="0.7"/>
<line x1="1778.7" y1="289.9" x2="1778.7" y2="309.1" stroke="#262626" stroke-width="0.7"/>
<line x1="1781.7" y1="289.9" x2="1781.7" y2="309.1" stroke="#262626" stroke-width="0.7"/>
<line x1="1789.5" y1="289.9" x2="1789.5" y2="309.1" stroke="#262626" stroke-width="0.7"/>
<line x1="1799.2" y1="289.9" x2="1799.2" y2="309.1" stroke="#2a2a2a" stroke-width="1.8"/>
<line x1="1818.0" y1="289.9" x2="1818.0" y2="309.1" stroke="#262626" stroke-width="0.7"/>
<line x1="1821.7" y1="289.9" x2="1821.7" y2="309.1" stroke="#262626" stroke-width="0.7"/>
<line x1="1857.3" y1="289.9" x2="1857.3" y2="309.1" stroke="#2a2a2a" stroke-width="1.8"/>
<rect x="1723.0" y="289.9" width="135.7" height="19.2" fill="none" stroke="#262626" stroke-width="0.8"/>
<rect x="1862.2" y="85.4" width="135.5" height="19.2" fill="#929292"/>
<line x1="1984.0" y1="85.4" x2="1984.0" y2="104.6" stroke="#262626" stroke-width="0.7"/>
<rect x="1862.2" y="85.4" width="135.5" height="19.2" fill="none" stroke="#262626" stroke-width="0.8"/>
<rect x="1862.2" y="111.0" width="135.5" height="19.2" fill="#929292"/>
<rect x="1980.0" y="111.0" width="17.7" height="19.2" fill="#FF8C00"/>
<line x1="1980.0" y1="111.0" x2="1980.0" y2="130.2" stroke="#262626" stroke-width="0.7"/>
<line x1="1925.0" y1="111.0" x2="1925.0" y2="130.2" stroke="#262626" stroke-width="0.7"/>
<line x1="1929.0" y1="111.0" x2="1929.0" y2="130.2" stroke="#262626" stroke-width="0.7"/>
<rect x="1862.2" y="111.0" width="135.5" height="19.2" fill="none" stroke="#262626" stroke-width="0.8"/>
<rect x="1862.2" y="136.5" width="135.5" height="19.2" fill="#929292"/>
<rect x="1951.2" y="136.5" width="46.5" height="19.2" fill="#FF8C00"/>
<line x1="1951.2" y1="136.5" x2="1951.2" y2="155.7" stroke="#262626" stroke-width="0.7"/>
<line x1="1887.7" y1="136.5" x2="1887.7" y2="155.7" stroke="#262626" stroke-width="0.7"/>
<rect x="1862.2" y="136.5" width="135.5" height="19.2" fill="none" stroke="#262626" stroke-width="0.8"/>
<rect x="1862.2" y="162.1" width="135.5" height="19.2" fill="#929292"/>
<rect x="1982.5" y="162.1" width="15.2" height="19.2" fill="#F7922D"/>
<line x1="1982.5" y1="162.1" x2="1982.5" y2="181.3" stroke="#262626" stroke-width="0.7"/>
<line x1="1907.0" y1="162.1" x2="1907.0" y2="181.3" stroke="#262626" stroke-width="0.7"/>
<line x1="1950.0" y1="162.1" x2="1950.0" y2="181.3" stroke="#2a2a2a" stroke-width="1.8"/>
<line x1="1955.5" y1="162.1" x2="1955.5" y2="181.3" stroke="#262626" stroke-width="0.7"/>
<rect x="1862.2" y="162.1" width="135.5" height="19.2" fill="none" stroke="#262626" stroke-width="0.8"/>
<rect x="1862.2" y="187.6" width="135.5" height="19.2" fill="#929292"/>
<rect x="1992.7" y="187.6" width="5.0" height="19.2" fill="#FF8C00"/>
<line x1="1992.7" y1="187.6" x2="1992.7" y2="206.8" stroke="#262626" stroke-width="0.7"/>
<line x1="1914.7" y1="187.6" x2="1914.7" y2="206.8" stroke="#262626" stroke-width="0.7"/>
<line x1="1958.2" y1="187.6" x2="1958.2" y2="206.8" stroke="#2a2a2a" stroke-width="1.8"/>
<line x1="1963.7" y1="187.6" x2="1963.7" y2="206.8" stroke="#262626" stroke-width="0.7"/>
<rect x="1862.2" y="187.6" width="135.5" height="19.2" fill="none" stroke="#262626" stroke-width="0.8"/>
<rect x="1862.2" y="213.2" width="135.5" height="19.2" fill="#929292"/>
<rect x="1981.5" y="213.2" width="15.0" height="19.2" fill="#FF8C00"/>
<line x1="1981.5" y1="213.2" x2="1981.5" y2="232.4" stroke="#262626" stroke-width="0.7"/>
<line x1="1996.5" y1="213.2" x2="1996.5" y2="232.4" stroke="#262626" stroke-width="0.7"/>
<line x1="1920.0" y1="213.2" x2="1920.0" y2="232.4" stroke="#262626" stroke-width="0.7"/>
<line x1="1941.2" y1="213.2" x2="1941.2" y2="232.4" stroke="#262626" stroke-width="0.7"/>
<line x1="1944.0" y1="213.2" x2="1944.0" y2="232.4" stroke="#262626" stroke-width="0.7"/>
<rect x="1862.2" y="213.2" width="135.5" height="19.2" fill="none" stroke="#262626" stroke-width="0.8"/>
<rect x="1862.2" y="238.8" width="135.5" height="19.2" fill="#929292"/>
<line x1="1958.7" y1="238.8" x2="1958.7" y2="258.0" stroke="#262626" stroke-width="0.7"/>
<line x1="1988.7" y1="238.8" x2="1988.7" y2="258.0" stroke="#262626" stroke-width="0.7"/>
<rect x="1862.2" y="238.8" width="135.5" height="19.2" fill="none" stroke="#262626" stroke-width="0.8"/>
<rect x="1862.2" y="264.3" width="135.5" height="19.2" fill="#929292"/>
<line x1="1943.7" y1="264.3" x2="1943.7" y2="283.5" stroke="#262626" stroke-width="0.7"/>
<line x1="1967.0" y1="264.3" x2="1967.0" y2="283.5" stroke="#262626" stroke-width="0.7"/>
<line x1="1971.2" y1="264.3" x2="1971.2" y2="283.5" stroke="#262626" stroke-width="0.7"/>
<rect x="1862.2" y="264.3" width="135.5" height="19.2" fill="none" stroke="#262626" stroke-width="0.8"/>
<rect x="1862.2" y="289.9" width="135.5" height="19.2" fill="#929292"/>
<rect x="1994.2" y="289.9" width="3.5" height="19.2" fill="#FF8C00"/>
<line x1="1994.2" y1="289.9" x2="1994.2" y2="309.1" stroke="#262626" stroke-width="0.7"/>
<line x1="1951.2" y1="289.9" x2="1951.2" y2="309.1" stroke="#262626" stroke-width="0.7"/>
<line x1="1957.0" y1="289.9" x2="1957.0" y2="309.1" stroke="#262626" stroke-width="0.7"/>
<line x1="1968.0" y1="289.9" x2="1968.0" y2="309.1" stroke="#262626" stroke-width="0.7"/>
<line x1="1980.0" y1="289.9" x2="1980.0" y2="309.1" stroke="#2a2a2a" stroke-width="1.8"/>
<rect x="1862.2" y="289.9" width="135.5" height="19.2" fill="none" stroke="#262626" stroke-width="0.8"/>
<rect x="1862.2" y="315.4" width="135.5" height="19.2" fill="#929292"/>
<line x1="1955.0" y1="315.4" x2="1955.0" y2="334.6" stroke="#262626" stroke-width="0.7"/>
<line x1="1964.5" y1="315.4" x2="1964.5" y2="334.6" stroke="#262626" stroke-width="0.7"/>
<line x1="1995.7" y1="315.4" x2="1995.7" y2="334.6" stroke="#262626" stroke-width="0.7"/>
<rect x="1862.2" y="315.4" width="135.5" height="19.2" fill="none" stroke="#262626" stroke-width="0.8"/>
<rect x="1862.2" y="341.0" width="135.5" height="19.2" fill="#929292"/>
<line x1="1910.7" y1="341.0" x2="1910.7" y2="360.2" stroke="#262626" stroke-width="0.7"/>
<line x1="1927.0" y1="341.0" x2="1927.0" y2="360.2" stroke="#262626" stroke-width="0.7"/>
<line x1="1934.0" y1="341.0" x2="1934.0" y2="360.2" stroke="#2a2a2a" stroke-width="1.8"/>
<line x1="1991.2" y1="341.0" x2="1991.2" y2="360.2" stroke="#2a2a2a" stroke-width="1.8"/>
<line x1="1996.8" y1="341.0" x2="1996.8" y2="360.2" stroke="#2a2a2a" stroke-width="1.8"/>
<rect x="1862.2" y="341.0" width="135.5" height="19.2" fill="none" stroke="#262626" stroke-width="0.8"/>
<line x1="1163.6" y1="581.4" x2="1301.3" y2="581.4" stroke="#000" stroke-width="1.6" />
<line x1="1164.3" y1="581.4" x2="1164.3" y2="592.3" stroke="#000" stroke-width="1.5" />
<line x1="1177.9" y1="581.4" x2="1177.9" y2="587.8" stroke="#000" stroke-width="1.5" />
<line x1="1191.6" y1="581.4" x2="1191.6" y2="592.3" stroke="#000" stroke-width="1.5" />
<line x1="1205.2" y1="581.4" x2="1205.2" y2="587.8" stroke="#000" stroke-width="1.5" />
<line x1="1218.8" y1="581.4" x2="1218.8" y2="592.3" stroke="#000" stroke-width="1.5" />
<line x1="1232.4" y1="581.4" x2="1232.4" y2="587.8" stroke="#000" stroke-width="1.5" />
<line x1="1246.1" y1="581.4" x2="1246.1" y2="592.3" stroke="#000" stroke-width="1.5" />
<line x1="1259.7" y1="581.4" x2="1259.7" y2="587.8" stroke="#000" stroke-width="1.5" />
<line x1="1273.3" y1="581.4" x2="1273.3" y2="592.3" stroke="#000" stroke-width="1.5" />
<line x1="1287.0" y1="581.4" x2="1287.0" y2="587.8" stroke="#000" stroke-width="1.5" />
<line x1="1300.6" y1="581.4" x2="1300.6" y2="592.3" stroke="#000" stroke-width="1.5" />
<line x1="1303.0" y1="581.4" x2="1441.2" y2="581.4" stroke="#000" stroke-width="1.6" />
<line x1="1303.7" y1="581.4" x2="1303.7" y2="592.3" stroke="#000" stroke-width="1.5" />
<line x1="1317.4" y1="581.4" x2="1317.4" y2="587.8" stroke="#000" stroke-width="1.5" />
<line x1="1331.1" y1="581.4" x2="1331.1" y2="592.3" stroke="#000" stroke-width="1.5" />
<line x1="1344.7" y1="581.4" x2="1344.7" y2="587.8" stroke="#000" stroke-width="1.5" />
<line x1="1358.4" y1="581.4" x2="1358.4" y2="592.3" stroke="#000" stroke-width="1.5" />
<line x1="1372.1" y1="581.4" x2="1372.1" y2="587.8" stroke="#000" stroke-width="1.5" />
<line x1="1385.8" y1="581.4" x2="1385.8" y2="592.3" stroke="#000" stroke-width="1.5" />
<line x1="1399.5" y1="581.4" x2="1399.5" y2="587.8" stroke="#000" stroke-width="1.5" />
<line x1="1413.1" y1="581.4" x2="1413.1" y2="592.3" stroke="#000" stroke-width="1.5" />
<line x1="1426.8" y1="581.4" x2="1426.8" y2="587.8" stroke="#000" stroke-width="1.5" />
<line x1="1440.5" y1="581.4" x2="1440.5" y2="592.3" stroke="#000" stroke-width="1.5" />
<line x1="1443.0" y1="581.4" x2="1581.0" y2="581.4" stroke="#000" stroke-width="1.6" />
<line x1="1443.7" y1="581.4" x2="1443.7" y2="592.3" stroke="#000" stroke-width="1.5" />
<line x1="1457.4" y1="581.4" x2="1457.4" y2="587.8" stroke="#000" stroke-width="1.5" />
<line x1="1471.0" y1="581.4" x2="1471.0" y2="592.3" stroke="#000" stroke-width="1.5" />
<line x1="1484.7" y1="581.4" x2="1484.7" y2="587.8" stroke="#000" stroke-width="1.5" />
<line x1="1498.3" y1="581.4" x2="1498.3" y2="592.3" stroke="#000" stroke-width="1.5" />
<line x1="1512.0" y1="581.4" x2="1512.0" y2="587.8" stroke="#000" stroke-width="1.5" />
<line x1="1525.7" y1="581.4" x2="1525.7" y2="592.3" stroke="#000" stroke-width="1.5" />
<line x1="1539.3" y1="581.4" x2="1539.3" y2="587.8" stroke="#000" stroke-width="1.5" />
<line x1="1553.0" y1="581.4" x2="1553.0" y2="592.3" stroke="#000" stroke-width="1.5" />
<line x1="1566.6" y1="581.4" x2="1566.6" y2="587.8" stroke="#000" stroke-width="1.5" />
<line x1="1580.3" y1="581.4" x2="1580.3" y2="592.3" stroke="#000" stroke-width="1.5" />
<line x1="1582.2" y1="581.4" x2="1720.3" y2="581.4" stroke="#000" stroke-width="1.6" />
<line x1="1582.9" y1="581.4" x2="1582.9" y2="592.3" stroke="#000" stroke-width="1.5" />
<line x1="1596.6" y1="581.4" x2="1596.6" y2="587.8" stroke="#000" stroke-width="1.5" />
<line x1="1610.2" y1="581.4" x2="1610.2" y2="592.3" stroke="#000" stroke-width="1.5" />
<line x1="1623.9" y1="581.4" x2="1623.9" y2="587.8" stroke="#000" stroke-width="1.5" />
<line x1="1637.6" y1="581.4" x2="1637.6" y2="592.3" stroke="#000" stroke-width="1.5" />
<line x1="1651.2" y1="581.4" x2="1651.2" y2="587.8" stroke="#000" stroke-width="1.5" />
<line x1="1664.9" y1="581.4" x2="1664.9" y2="592.3" stroke="#000" stroke-width="1.5" />
<line x1="1678.6" y1="581.4" x2="1678.6" y2="587.8" stroke="#000" stroke-width="1.5" />
<line x1="1692.3" y1="581.4" x2="1692.3" y2="592.3" stroke="#000" stroke-width="1.5" />
<line x1="1705.9" y1="581.4" x2="1705.9" y2="587.8" stroke="#000" stroke-width="1.5" />
<line x1="1719.6" y1="581.4" x2="1719.6" y2="592.3" stroke="#000" stroke-width="1.5" />
<line x1="1721.4" y1="581.4" x2="1860.1" y2="581.4" stroke="#000" stroke-width="1.6" />
<line x1="1722.1" y1="581.4" x2="1722.1" y2="592.3" stroke="#000" stroke-width="1.5" />
<line x1="1735.8" y1="581.4" x2="1735.8" y2="587.8" stroke="#000" stroke-width="1.5" />
<line x1="1749.6" y1="581.4" x2="1749.6" y2="592.3" stroke="#000" stroke-width="1.5" />
<line x1="1763.3" y1="581.4" x2="1763.3" y2="587.8" stroke="#000" stroke-width="1.5" />
<line x1="1777.0" y1="581.4" x2="1777.0" y2="592.3" stroke="#000" stroke-width="1.5" />
<line x1="1790.8" y1="581.4" x2="1790.8" y2="587.8" stroke="#000" stroke-width="1.5" />
<line x1="1804.5" y1="581.4" x2="1804.5" y2="592.3" stroke="#000" stroke-width="1.5" />
<line x1="1818.2" y1="581.4" x2="1818.2" y2="587.8" stroke="#000" stroke-width="1.5" />
<line x1="1831.9" y1="581.4" x2="1831.9" y2="592.3" stroke="#000" stroke-width="1.5" />
<line x1="1845.7" y1="581.4" x2="1845.7" y2="587.8" stroke="#000" stroke-width="1.5" />
<line x1="1859.4" y1="581.4" x2="1859.4" y2="592.3" stroke="#000" stroke-width="1.5" />
<line x1="1861.3" y1="581.4" x2="2000.2" y2="581.4" stroke="#000" stroke-width="1.6" />
<line x1="1862.0" y1="581.4" x2="1862.0" y2="592.3" stroke="#000" stroke-width="1.5" />
<line x1="1875.8" y1="581.4" x2="1875.8" y2="587.8" stroke="#000" stroke-width="1.5" />
<line x1="1889.5" y1="581.4" x2="1889.5" y2="592.3" stroke="#000" stroke-width="1.5" />
<line x1="1903.2" y1="581.4" x2="1903.2" y2="587.8" stroke="#000" stroke-width="1.5" />
<line x1="1917.0" y1="581.4" x2="1917.0" y2="592.3" stroke="#000" stroke-width="1.5" />
<line x1="1930.8" y1="581.4" x2="1930.8" y2="587.8" stroke="#000" stroke-width="1.5" />
<line x1="1944.5" y1="581.4" x2="1944.5" y2="592.3" stroke="#000" stroke-width="1.5" />
<line x1="1958.2" y1="581.4" x2="1958.2" y2="587.8" stroke="#000" stroke-width="1.5" />
<line x1="1972.0" y1="581.4" x2="1972.0" y2="592.3" stroke="#000" stroke-width="1.5" />
<line x1="1985.8" y1="581.4" x2="1985.8" y2="587.8" stroke="#000" stroke-width="1.5" />
<line x1="1999.5" y1="581.4" x2="1999.5" y2="592.3" stroke="#000" stroke-width="1.5" />
<text x="1163.0" y="617.8" font-size="27.6" text-anchor="middle" font-weight="normal" fill="#000"  stroke="#000" stroke-width="0.4">0</text>
<text x="1217.2" y="617.8" font-size="27.6" text-anchor="middle" font-weight="normal" fill="#000"  stroke="#000" stroke-width="0.4">40</text>
<text x="1271.8" y="617.8" font-size="27.6" text-anchor="middle" font-weight="normal" fill="#000"  stroke="#000" stroke-width="0.4">80</text>
<text x="1298.6" y="617.8" font-size="27.6" text-anchor="start" font-weight="normal" fill="#000"  stroke="#000" stroke-width="0.4">(%)</text>
<rect x="1159.3" y="639.1" width="13.8" height="13.8" fill="#F2372C"/>
<text x="1178.2" y="653.5" font-size="27.7" text-anchor="start" font-weight="normal" fill="#000" textLength="671.4" lengthAdjust="spacingAndGlyphs" stroke="#000" stroke-width="0.4">Unclassified Halobacteriales (potentially methanogens)</text>
<rect x="1159.2" y="672.1" width="13.8" height="13.8" fill="#C81A00"/>
<text x="1179.4" y="686.6" font-size="27.7" text-anchor="start" font-weight="normal" fill="#000"  stroke="#000" stroke-width="0.4">Methanomicrobiales</text>
<rect x="1159.2" y="704.2" width="13.8" height="13.8" fill="#8E1000"/>
<text x="1179.4" y="718.5" font-size="27.7" text-anchor="start" font-weight="normal" fill="#000"  stroke="#000" stroke-width="0.4">Methanosarciniales</text>
<rect x="1460.8" y="672.3" width="13.8" height="13.8" fill="#FF8C00"/>
<text x="1480.6" y="686.6" font-size="27.7" text-anchor="start" font-weight="normal" fill="#000" textLength="308.2" lengthAdjust="spacingAndGlyphs" stroke="#000" stroke-width="0.4">Methanomassiliicoccales</text>
<rect x="1460.8" y="704.4" width="13.8" height="13.8" fill="#929292"/>
<text x="1482.8" y="718.5" font-size="27.7" text-anchor="start" font-weight="normal" fill="#000" textLength="174.8" lengthAdjust="spacingAndGlyphs" stroke="#000" stroke-width="0.4">Other archaea</text>
</g>
</svg>
</body>
</html>
